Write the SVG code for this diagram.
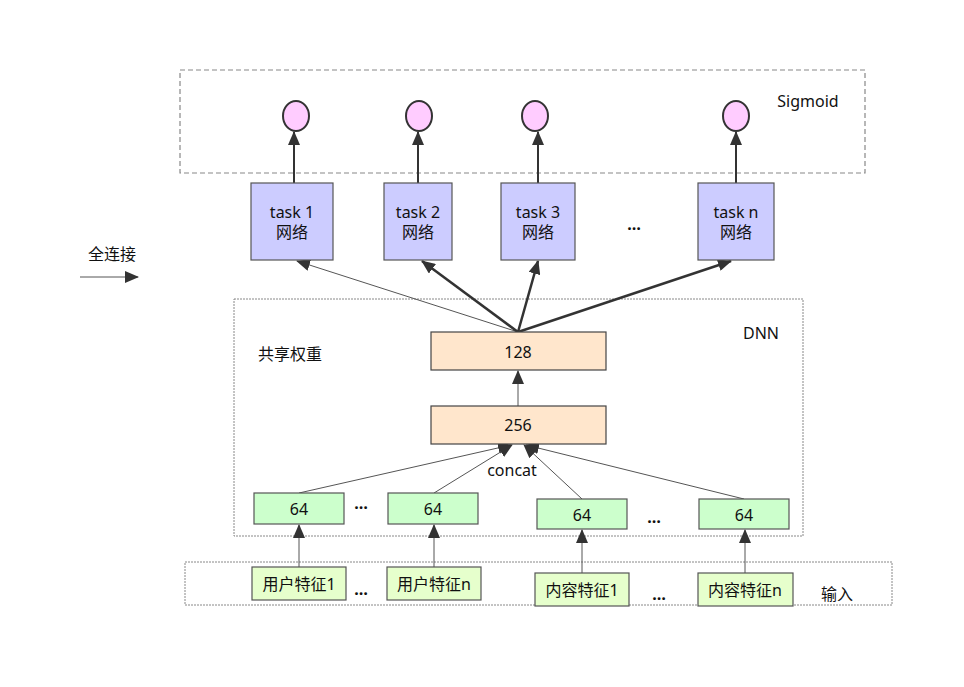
<svg xmlns="http://www.w3.org/2000/svg" width="964" height="687" viewBox="0 0 964 687">
<style>
text{font-family:"Noto Sans","Noto Sans CJK SC",sans-serif;font-size:16px;fill:#111;text-anchor:middle;dominant-baseline:central}
.task{fill:#ccccff;stroke:#555;stroke-width:1.2}
.dense{fill:#ffe6cc;stroke:#444;stroke-width:1.2}
.emb{fill:#ccffcc;stroke:#555;stroke-width:1.2}
.inp{fill:#e6ffcc;stroke:#555;stroke-width:1.2}
.sig{fill:#ffccff;stroke:#333;stroke-width:2}
.grp1{fill:none;stroke:#888;stroke-width:1.2;stroke-dasharray:5 3}
.grp2{fill:none;stroke:#888;stroke-width:1;stroke-dasharray:2 1}
.thin{stroke:#555;stroke-width:1;fill:none}
.thick{stroke:#333;stroke-width:2.5;fill:none}
.mid{stroke:#333;stroke-width:2;fill:none}
.dots{font-size:16px;font-weight:bold}
</style>
<defs>
<marker id="ah" markerUnits="userSpaceOnUse" markerWidth="14" markerHeight="12" viewBox="0 0 14 12" refX="13" refY="6" orient="auto">
<path d="M0,0 L14,6 L0,12 z" fill="#333"/>
</marker>
</defs>
<rect width="964" height="687" fill="#fff"/>

<g id="groups">
<rect id="sigmoid-group" class="grp1" x="180" y="70" width="685" height="103"/>
<rect id="dnn-group" class="grp2" x="234" y="299" width="569" height="237"/>
<rect id="input-group" class="grp2" x="185" y="562" width="707" height="43"/>
</g>

<g id="connectors">
<line class="mid" x1="294" y1="183" x2="294" y2="132" marker-end="url(#ah)"/>
<line class="mid" x1="418" y1="183" x2="418" y2="132" marker-end="url(#ah)"/>
<line class="mid" x1="538" y1="183" x2="538" y2="132" marker-end="url(#ah)"/>
<line class="mid" x1="736" y1="183" x2="736" y2="132" marker-end="url(#ah)"/>
<line class="thin" x1="518" y1="332" x2="297" y2="261" marker-end="url(#ah)"/>
<line class="thick" x1="518" y1="332" x2="422" y2="261" marker-end="url(#ah)"/>
<line class="thick" x1="518" y1="332" x2="538" y2="261" marker-end="url(#ah)"/>
<line class="thick" x1="518" y1="332" x2="731" y2="261" marker-end="url(#ah)"/>
<line class="thin" x1="518" y1="406" x2="518" y2="371" marker-end="url(#ah)"/>
<line class="thin" x1="299" y1="493" x2="511" y2="445" marker-end="url(#ah)"/>
<line class="thin" x1="434" y1="493" x2="512" y2="445" marker-end="url(#ah)"/>
<line class="thin" x1="582" y1="499" x2="524" y2="445" marker-end="url(#ah)"/>
<line class="thin" x1="744" y1="499" x2="526" y2="445" marker-end="url(#ah)"/>
<line class="thin" x1="299" y1="567" x2="299" y2="525" marker-end="url(#ah)"/>
<line class="thin" x1="434" y1="567" x2="434" y2="525" marker-end="url(#ah)"/>
<line class="thin" x1="582" y1="573" x2="582" y2="530" marker-end="url(#ah)"/>
<line class="thin" x1="745" y1="573" x2="745" y2="530" marker-end="url(#ah)"/>
<line class="thin" x1="80" y1="277" x2="138" y2="277" marker-end="url(#ah)"/>
</g>

<g id="sigmoid1"><ellipse class="sig" cx="296" cy="116" rx="13" ry="15"/></g>
<g id="sigmoid2"><ellipse class="sig" cx="419" cy="116" rx="13" ry="15"/></g>
<g id="sigmoid3"><ellipse class="sig" cx="535" cy="116" rx="13" ry="15"/></g>
<g id="sigmoidn"><ellipse class="sig" cx="736" cy="116" rx="13" ry="15"/></g>
<g id="sigmoid-label"><text x="808" y="101">Sigmoid</text></g>

<g id="task1"><rect class="task" x="251" y="183" width="82" height="77"/><text x="292" y="212">task 1</text><text x="292" y="232">网络</text></g>
<g id="task2"><rect class="task" x="384" y="183" width="68" height="77"/><text x="418" y="212">task 2</text><text x="418" y="232">网络</text></g>
<g id="task3"><rect class="task" x="501" y="183" width="74" height="77"/><text x="538" y="212">task 3</text><text x="538" y="232">网络</text></g>
<g id="taskn"><rect class="task" x="698" y="183" width="76" height="77"/><text x="736" y="212">task n</text><text x="736" y="232">网络</text></g>
<g id="task-dots"><text class="dots" x="634" y="224">…</text></g>

<g id="legend"><text x="112" y="254">全连接</text></g>

<g id="dnn-label"><text x="761" y="333">DNN</text></g>
<g id="shared-label"><text x="290" y="354">共享权重</text></g>

<g id="dense128"><rect class="dense" x="431" y="332" width="175" height="38"/><text x="518" y="352">128</text></g>
<g id="dense256"><rect class="dense" x="431" y="406" width="175" height="38"/><text x="518" y="425">256</text></g>
<g id="concat-label"><text x="512" y="470">concat</text></g>

<g id="emb1"><rect class="emb" x="254" y="493" width="90" height="31"/><text x="299" y="509">64</text></g>
<g id="emb2"><rect class="emb" x="388" y="493" width="90" height="31"/><text x="433" y="509">64</text></g>
<g id="emb3"><rect class="emb" x="537" y="499" width="90" height="30"/><text x="582" y="515">64</text></g>
<g id="emb4"><rect class="emb" x="699" y="499" width="90" height="30"/><text x="744" y="515">64</text></g>
<g id="emb-dots"><text class="dots" x="361" y="503">…</text><text class="dots" x="654" y="517">…</text></g>

<g id="user1"><rect class="inp" x="252" y="567" width="94" height="33"/><text x="299" y="584">用户特征1</text></g>
<g id="usern"><rect class="inp" x="387" y="567" width="94" height="33"/><text x="434" y="584">用户特征n</text></g>
<g id="item1"><rect class="inp" x="535" y="573" width="94" height="33"/><text x="582" y="590">内容特征1</text></g>
<g id="itemn"><rect class="inp" x="698" y="573" width="95" height="33"/><text x="745" y="590">内容特征n</text></g>
<g id="input-dots"><text class="dots" x="361" y="589">…</text><text class="dots" x="659" y="594">…</text></g>
<g id="input-label"><text x="837" y="594">输入</text></g>
</svg>
